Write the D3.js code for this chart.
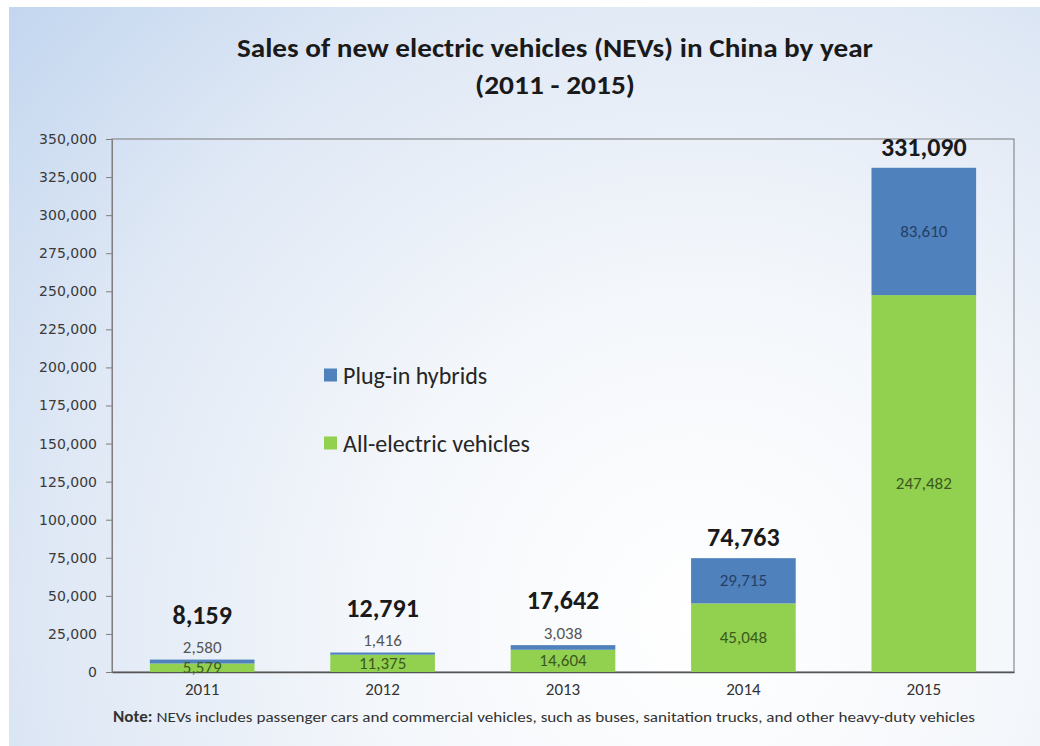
<!DOCTYPE html>
<html>
<head>
<meta charset="utf-8">
<script src="https://cdn.jsdelivr.net/npm/d3@7"></script>
<style>
  html, body { margin: 0; padding: 0; background: #fff; }
  svg { display: block; }
</style>
</head>
<body>
<svg id="chart" width="1040" height="746"></svg>
<script>
// Sales of new electric vehicles in China, 2011-2015
const years = ["2011", "2012", "2013", "2014", "2015"];
const allElectric = [5579, 11375, 14604, 45048, 247482];
const plugInHybrids = [2580, 1416, 3038, 29715, 83610];
const totals = [8159, 12791, 17642, 74763, 331090];
const yTicks = [0, 25000, 50000, 75000, 100000, 125000, 150000, 175000, 200000,
  225000, 250000, 275000, 300000, 325000, 350000];
const seriesNames = ["Plug-in hybrids", "All-electric vehicles"];

const colors = { hybrid: "#4f81bd", electric: "#92d050" };
const fmt = d3.format(",");

const svg = d3.select("#chart");
const W = 1040, H = 746;

// background panel with soft blue-to-white shading
const defs = svg.append("defs");
const grad = defs.append("radialGradient")
  .attr("id", "bg").attr("gradientUnits", "userSpaceOnUse")
  .attr("cx", 700).attr("cy", 620).attr("r", 930)
  .attr("fx", 700).attr("fy", 620);
grad.append("stop").attr("offset", "0").attr("stop-color", "#ffffff");
grad.append("stop").attr("offset", "0.35").attr("stop-color", "#f4f7fb");
grad.append("stop").attr("offset", "0.7").attr("stop-color", "#dfe8f5");
grad.append("stop").attr("offset", "1").attr("stop-color", "#c2d6ef");

svg.append("rect").attr("width", W).attr("height", H).attr("fill", "#fff");
svg.append("rect").attr("x", 9).attr("y", 7).attr("width", W - 9).attr("height", H - 7)
  .attr("fill", "url(#bg)");

const labelFont = "Carlito, Lato, 'Open Sans', sans-serif";

// title
const title = svg.append("g")
  .attr("font-family", labelFont).attr("text-anchor", "middle")
  .attr("font-weight", "bold").attr("font-size", 27).attr("fill", "#1a1a1a");
title.append("text").attr("x", 555).attr("y", 57)
  .attr("textLength", 636).attr("lengthAdjust", "spacingAndGlyphs")
  .text("Sales of new electric vehicles (NEVs) in China by year");
title.append("text").attr("x", 555).attr("y", 94)
  .attr("textLength", 160).attr("lengthAdjust", "spacingAndGlyphs")
  .text("(2011 - 2015)");

// plot area
const plot = { left: 112, right: 1014, top: 139, bottom: 672 };

const x = d3.scaleBand().domain(years)
  .range([plot.left, plot.right])
  .paddingInner(0.42).paddingOuter(0.21);
const y = d3.scaleLinear().domain([0, 350000]).range([plot.bottom, plot.top]);

// frame
svg.append("rect")
  .attr("x", plot.left).attr("y", plot.top)
  .attr("width", plot.right - plot.left).attr("height", plot.bottom - plot.top)
  .attr("fill", "none").attr("stroke", "#8a8a8a").attr("stroke-width", 1.2);

// y axis
const yAxis = svg.append("g")
  .attr("transform", `translate(${plot.left},0)`)
  .call(d3.axisLeft(y).tickValues(yTicks).tickFormat(fmt).tickSize(6).tickPadding(9));
yAxis.select(".domain").attr("stroke", "#7f7f7f");
yAxis.selectAll(".tick line").attr("stroke", "#7f7f7f");
yAxis.selectAll(".tick text")
  .attr("font-family", "'DejaVu Sans', Verdana, sans-serif")
  .attr("font-size", 14).attr("fill", "#3a3a3a");

// x axis labels
const xAxis = svg.append("g")
  .attr("transform", `translate(0,${plot.bottom})`)
  .call(d3.axisBottom(x).tickSize(0).tickPadding(11));
xAxis.select(".domain").attr("stroke", "#555").attr("stroke-width", 1.4);
xAxis.selectAll(".tick text")
  .attr("font-family", labelFont)
  .attr("font-size", 17).attr("fill", "#333");

// stacked bars
const rows = years.map((yr, i) => ({
  year: yr, electric: allElectric[i], hybrid: plugInHybrids[i], total: totals[i]
}));
const stack = d3.stack().keys(["electric", "hybrid"]);
const layers = stack(rows);

svg.append("g").selectAll("g")
  .data(layers).join("g")
  .attr("fill", d => colors[d.key])
  .selectAll("rect")
  .data(d => d).join("rect")
  .attr("x", d => x(d.data.year))
  .attr("width", x.bandwidth())
  .attr("y", d => y(d[1]))
  .attr("height", d => y(d[0]) - y(d[1]));

// segment value labels
const seg = svg.append("g").attr("font-family", labelFont).attr("font-size", 17)
  .attr("text-anchor", "middle").attr("dominant-baseline", "central");

rows.forEach(r => {
  const cx = x(r.year) + x.bandwidth() / 2;
  // all-electric label sits in the middle of the green segment
  seg.append("text").attr("x", cx).attr("y", y(r.electric / 2))
    .attr("fill", "#3b5a1c").text(fmt(r.electric));
  // hybrid label: centred in the blue segment when it is tall enough, otherwise above the bar
  const segH = y(r.electric) - y(r.electric + r.hybrid);
  const inside = segH > 24;
  const hy = inside ? y(r.electric + r.hybrid / 2) : y(r.total) - 12;
  seg.append("text").attr("x", cx).attr("y", hy)
    .attr("fill", inside ? "#243f66" : "#555").text(fmt(r.hybrid));
  // totals in bold above each bar
  const ty = inside ? y(r.total) - 21 : y(r.total) - 45;
  svg.append("text").attr("x", cx).attr("y", ty)
    .attr("text-anchor", "middle").attr("dominant-baseline", "central")
    .attr("font-family", labelFont).attr("font-weight", "bold")
    .attr("font-size", 26).attr("fill", "#1a1a1a").text(fmt(r.total));
});

// legend
const legend = svg.append("g");
const legendItems = [
  { name: seriesNames[0], color: colors.hybrid, y: 375 },
  { name: seriesNames[1], color: colors.electric, y: 443 }
];
legendItems.forEach(it => {
  legend.append("rect").attr("x", 324).attr("y", it.y - 6.5)
    .attr("width", 13).attr("height", 13).attr("fill", it.color);
  legend.append("text").attr("x", 343).attr("y", it.y)
    .attr("dominant-baseline", "central")
    .attr("font-family", labelFont).attr("font-size", 24).attr("fill", "#262626")
    .text(it.name);
});

// footnote
const note = svg.append("text").attr("x", 544).attr("y", 722)
  .attr("text-anchor", "middle")
  .attr("textLength", 862).attr("lengthAdjust", "spacingAndGlyphs")
  .attr("font-family", labelFont).attr("font-size", 15).attr("fill", "#333");
note.append("tspan").attr("font-weight", "bold").text("Note:");
note.append("tspan")
  .text(" NEVs includes passenger cars and commercial vehicles, such as buses, sanitation trucks, and other heavy-duty vehicles");
</script>
</body>
</html>
